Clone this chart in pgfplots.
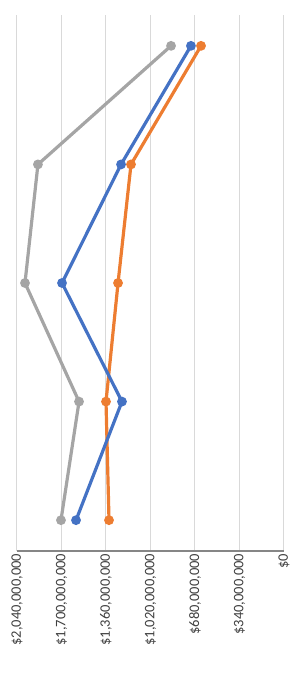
\documentclass[border=0pt]{standalone}
\usepackage{fontspec}
\setmainfont{Carlito}
\usepackage{pgfplots}
\pgfplotsset{compat=1.18}
\definecolor{cblue}{HTML}{4472C4}
\definecolor{corange}{HTML}{ED7D31}
\definecolor{cgray}{HTML}{A5A5A5}
\definecolor{grid}{HTML}{D9D9D9}
\definecolor{axl}{HTML}{868686}
\begin{document}
\begin{tikzpicture}
\begin{axis}[
  name=ax,
  scale only axis,
  width=267pt, height=536pt,
  x dir=reverse, y dir=reverse,
  xmin=0, xmax=2040,
  ymin=-0.26, ymax=4.26,
  axis x line*=bottom,
  axis y line=none,
  x axis line style={draw=axl, line width=1.5pt, -},
  xtick={0,340,680,1020,1360,1700,2040},
  xticklabels={{\$0},{\$340,000,000},{\$680,000,000},{\$1,020,000,000},{\$1,360,000,000},{\$1,700,000,000},{\$2,040,000,000}},
  xticklabel style={rotate=90, anchor=east, font=\fontsize{14.5}{14.5}\selectfont, text=black!75, inner sep=2.5pt},
  major tick length=0pt,
  xmajorgrids,
  major grid style={draw=grid, line width=1pt},
  ytick=\empty,
  every axis plot/.append style={line width=3.2pt, mark=*, mark size=3.2pt},
  clip=false,
]
\addplot[cgray, mark options={fill=cgray}] coordinates {(863,0) (1880,1) (1979,2) (1566,3) (1704,4)};
\addplot[corange, mark options={fill=corange}] coordinates {(634,0) (1169,1) (1268,2) (1360,3) (1337,4)};
\addplot[cblue, mark options={fill=cblue}] coordinates {(711,0) (1245,1) (1696,2) (1238,3) (1589,4)};
\end{axis}
\path ([shift={(-17pt,-124pt)}]ax.south west) rectangle ([shift={(8pt,15pt)}]ax.north east);
\end{tikzpicture}
\end{document}
